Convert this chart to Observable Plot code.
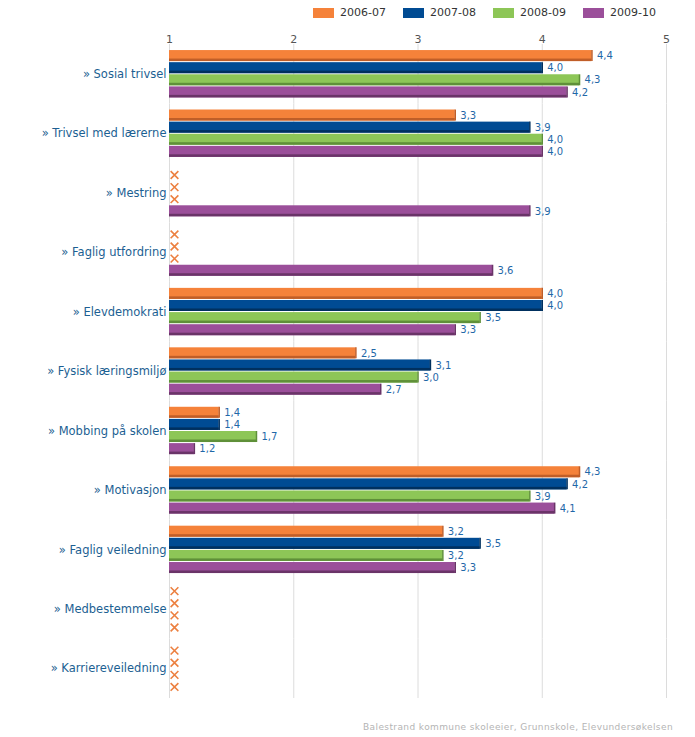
<!DOCTYPE html>
<html>
<head>
<meta charset="utf-8">
<script src="https://cdn.jsdelivr.net/npm/d3@7"></script>
<script src="https://cdn.jsdelivr.net/npm/@observablehq/plot@0.6"></script>
<style>
  html, body { margin: 0; padding: 0; background: #fff; font-family: "DejaVu Sans", Verdana, sans-serif; }
  #legend { position: relative; height: 28px; }
  .item { position: absolute; top: 6px; display: flex; align-items: center; font-size: 11px; color: #333; }
  .sw { width: 21px; height: 10px; margin-right: 6px; }
  #caption { text-align: right; padding-right: 22px; color: #b4b4b4; font-size: 9px; letter-spacing: 0.4px; margin-top: 16px; }
</style>
</head>
<body>
<div id="legend"></div>
<div id="chart"></div>
<div id="caption">Balestrand kommune skoleeier, Grunnskole, Elevundersøkelsen</div>
<script>
const categories = ["Sosial trivsel", "Trivsel med lærerne", "Mestring", "Faglig utfordring", "Elevdemokrati", "Fysisk læringsmiljø", "Mobbing på skolen", "Motivasjon", "Faglig veiledning", "Medbestemmelse", "Karriereveiledning"];
const years = ["2006-07", "2007-08", "2008-09", "2009-10"];
const v200607 = [4.4, 3.3, null, null, 4.0, 2.5, 1.4, 4.3, 3.2, null, null];
const v200708 = [4.0, 3.9, null, null, 4.0, 3.1, 1.4, 4.2, 3.5, null, null];
const v200809 = [4.3, 4.0, null, null, 3.5, 3.0, 1.7, 3.9, 3.2, null, null];
const v200910 = [4.2, 4.0, 3.9, 3.6, 3.3, 2.7, 1.2, 4.1, 3.3, null, null];
const xTicks = [1, 2, 3, 4, 5];
const colors = ["#f5823a", "#004b93", "#8dc657", "#9b4f9a"];
const darkColors = ["#c05e28", "#00305f", "#5f9039", "#6a3468"];

const series = [v200607, v200708, v200809, v200910];
const data = categories.flatMap((c, i) => years.map((y, j) => ({category: c, year: y, yi: j, value: series[j][i]})));
const present = data.filter(d => d.value != null);
const missing = data.filter(d => d.value == null);
const fmt = d => d3.format(".1f")(d).replace(".", ",");

// legend
const legend = document.getElementById("legend");
years.forEach((y, j) => {
  const it = document.createElement("div");
  it.className = "item";
  it.style.left = (313 + 90 * j) + "px";
  it.innerHTML = `<span class="sw" style="background:${colors[j]}"></span><span>${y}</span>`;
  legend.appendChild(it);
});

const darkMarks = years.flatMap((y, j) => {
  const sub = present.filter(d => d.year === y);
  return [
    Plot.barX(sub, {x1: 1, x2: "value", y: "year", fy: "category", fill: darkColors[j], insetTop: 8.5}),
    Plot.tickX(sub, {x: "value", y: "year", fy: "category", stroke: darkColors[j], strokeWidth: 1.5})
  ];
});

const chart = Plot.plot({
  width: 695,
  height: 678,
  marginLeft: 169,
  marginRight: 29,
  marginTop: 16,
  marginBottom: 8,
  style: {fontFamily: "DejaVu Sans, Verdana, sans-serif", fontSize: "11px", background: "#fff"},
  x: {domain: [1, 5]},
  y: {domain: years, axis: null, paddingInner: 0.09, paddingOuter: 0.5, round: false},
  fy: {domain: categories, padding: 0, round: false},
  color: {domain: years, range: colors},
  marks: [
    Plot.ruleX(xTicks, {stroke: "#dcdcdc"}),
    Plot.barX(present, {x1: 1, x2: "value", y: "year", fy: "category", fill: "year"}),
    ...darkMarks,
    Plot.text(present, {x: "value", y: "year", fy: "category", text: d => fmt(d.value), dx: 5, textAnchor: "start", fill: "#1f68a8", fontSize: 10}),
    Plot.dot(missing, {x: 1, y: "year", fy: "category", symbol: "times", r: 3.6, dx: 5, stroke: "#ec8040", strokeWidth: 1.6}),
    Plot.axisX({anchor: "top", ticks: xTicks, tickSize: 0, tickPadding: 2, tickFormat: d3.format("d"), fill: "#555", label: null, fontSize: 11}),
    Plot.axisFy({anchor: "left", tickSize: 0, tickPadding: 3, tickFormat: d => "» " + d, fill: "#1c5f92", label: null, fontSize: 11.5})
  ]
});
document.getElementById("chart").appendChild(chart);
</script>
</body>
</html>
